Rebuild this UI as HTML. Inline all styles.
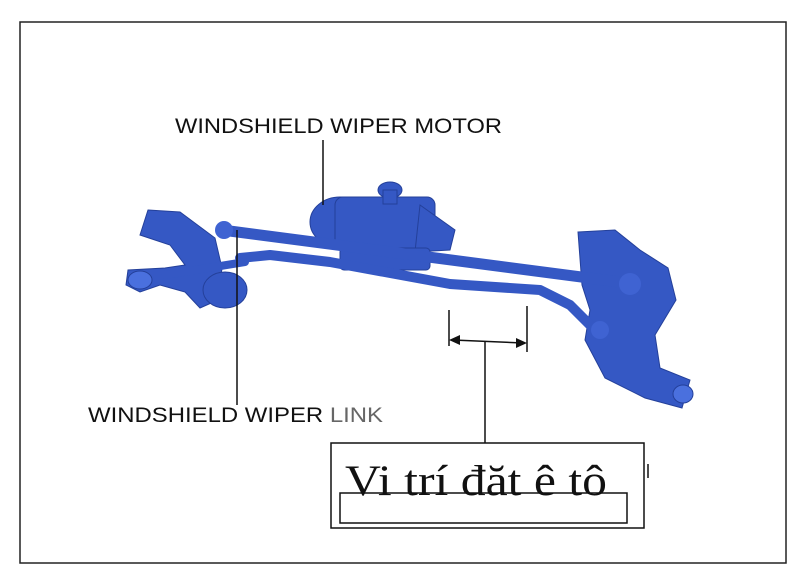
<!DOCTYPE html>
<html><head><meta charset="utf-8"><style>
body{margin:0;background:#fff;}
svg{display:block}
</style></head><body>
<svg width="800" height="585" viewBox="0 0 800 585" xmlns="http://www.w3.org/2000/svg">
<rect x="20" y="22" width="766" height="541" fill="#fff" stroke="#222" stroke-width="1.5"/>
<g fill="#3558c4" stroke="#24409a" stroke-width="1">
 <polygon points="148,210 180,212 215,238 222,268 218,300 200,308 185,292 160,285 140,292 126,285 128,270 165,268 185,265 170,245 140,235"/>
 <ellipse cx="225" cy="290" rx="22" ry="18"/>
 <ellipse cx="140" cy="280" rx="12" ry="9" fill="#4a70de"/>
 <polygon points="578,232 615,230 640,250 668,268 676,300 655,335 660,368 690,380 682,408 645,398 605,378 585,340 590,310 582,285"/>
 <ellipse cx="683" cy="394" rx="10" ry="9" fill="#4a70de"/>
 <ellipse cx="340" cy="222" rx="30" ry="25"/>
 <rect x="335" y="197" width="100" height="52" rx="8"/>
 <polygon points="420,205 455,230 450,250 415,252"/>
 <ellipse cx="390" cy="190" rx="12" ry="8"/>
 <rect x="383" y="190" width="14" height="14"/>
 <rect x="340" y="248" width="90" height="22" rx="4"/>
</g>
<g fill="none" stroke="#3558c4" stroke-linecap="round">
 <line x1="222" y1="230" x2="635" y2="284" stroke-width="11"/>
 <polyline points="240,258 270,255 330,262 450,284 540,290 570,305 600,335" stroke-width="10" stroke-linejoin="round"/>
 <line x1="165" y1="275" x2="245" y2="262" stroke-width="8"/>
</g>
<circle cx="224" cy="230" r="9" fill="#3f63d2"/>
<circle cx="630" cy="284" r="11" fill="#3f63d2"/>
<circle cx="600" cy="330" r="9" fill="#3f63d2"/>
<g stroke="#111" stroke-width="1.5" fill="none">
 <line x1="323" y1="140" x2="323" y2="205"/>
 <line x1="237" y1="230" x2="237" y2="405"/>
 <line x1="449" y1="310" x2="449" y2="346"/>
 <line x1="527" y1="306" x2="527" y2="352"/>
 <line x1="453" y1="340" x2="523" y2="343"/>
 <line x1="485" y1="341" x2="485" y2="443"/>
 <rect x="331" y="443" width="313" height="85"/>
 <rect x="340" y="493" width="287" height="30"/>
 <line x1="648" y1="464" x2="648" y2="478"/>
</g>
<polygon points="449,340 460,335 460,345" fill="#111"/>
<polygon points="527,343 516,338 516,348" fill="#111"/>
<text x="175" y="133" font-family="Liberation Sans, sans-serif" font-size="21" fill="#111" textLength="327" lengthAdjust="spacingAndGlyphs">WINDSHIELD WIPER MOTOR</text>
<text x="88" y="422" font-family="Liberation Sans, sans-serif" font-size="21" fill="#111" textLength="295" lengthAdjust="spacingAndGlyphs">WINDSHIELD WIPER <tspan fill="#666">LINK</tspan></text>
<text x="345" y="495" font-family="Liberation Serif, serif" font-size="43" fill="#111" textLength="262" lengthAdjust="spacingAndGlyphs">Vi trí đăt ê tô</text>
</svg>
</body></html>
